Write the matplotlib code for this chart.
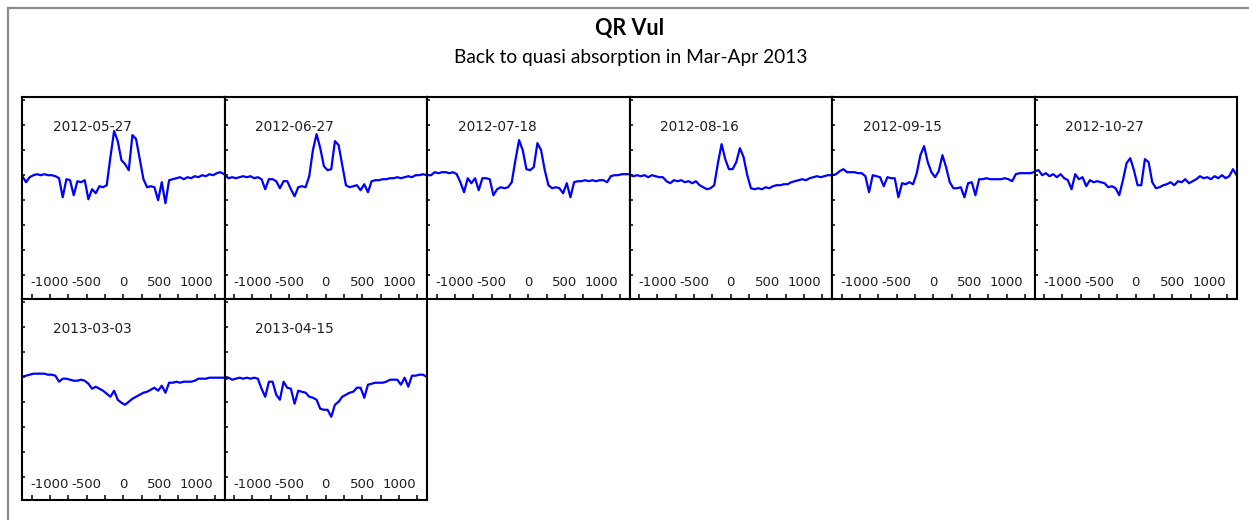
import matplotlib
matplotlib.use("Agg")
import matplotlib.pyplot as plt
from matplotlib.lines import Line2D
from matplotlib.ticker import FixedLocator, FuncFormatter
import numpy as np

# velocity grid (km/s) shared by all spectra
velocity = np.arange(-1375, 1376, 50)

dates = ["2012-05-27", "2012-06-27", "2012-07-18", "2012-08-16",
         "2012-09-15", "2012-10-27", "2013-03-03", "2013-04-15"]

flux_20120527 = [0.99, 0.93, 0.98, 1.00, 1.01, 1.00, 1.01, 1.00, 1.00, 0.99,
                 0.97, 0.78, 0.96, 0.95, 0.80, 0.94, 0.93, 0.95, 0.76, 0.86,
                 0.82, 0.89, 0.88, 0.90, 1.18, 1.44, 1.34, 1.15, 1.11, 1.05,
                 1.40, 1.36, 1.16, 0.96, 0.88, 0.89, 0.88, 0.75, 0.93, 0.72,
                 0.95, 0.96, 0.97, 0.98, 0.96, 0.98, 0.97, 0.99, 0.98, 1.00,
                 0.99, 1.01, 1.00, 1.02, 1.03, 1.01]
flux_20120627 = [1.00, 0.97, 0.98, 0.97, 0.98, 0.99, 0.98, 0.99, 0.97, 0.98,
                 0.96, 0.86, 0.96, 0.96, 0.94, 0.87, 0.94, 0.94, 0.86, 0.79,
                 0.88, 0.89, 0.88, 0.99, 1.25, 1.41, 1.27, 1.09, 1.05, 1.06,
                 1.34, 1.30, 1.10, 0.90, 0.88, 0.89, 0.90, 0.85, 0.91, 0.83,
                 0.94, 0.95, 0.95, 0.96, 0.96, 0.97, 0.97, 0.98, 0.97, 0.98,
                 0.99, 0.98, 1.00, 1.00, 1.01, 1.00]
flux_20120718 = [1.00, 1.00, 1.03, 1.02, 1.03, 1.03, 1.02, 1.03, 1.01, 0.93,
                 0.83, 0.97, 0.92, 0.97, 0.85, 0.97, 0.97, 0.96, 0.80, 0.86,
                 0.88, 0.87, 0.88, 0.93, 1.15, 1.35, 1.25, 1.06, 1.05, 1.08,
                 1.32, 1.25, 1.05, 0.90, 0.87, 0.88, 0.87, 0.82, 0.92, 0.78,
                 0.93, 0.94, 0.94, 0.95, 0.94, 0.95, 0.94, 0.95, 0.95, 0.93,
                 0.99, 1.00, 1.00, 1.01, 1.01, 1.01]
flux_20120816 = [1.00, 0.99, 1.00, 0.99, 1.00, 0.98, 1.00, 0.99, 0.98, 0.98,
                 0.94, 0.92, 0.95, 0.94, 0.95, 0.93, 0.94, 0.92, 0.94, 0.90,
                 0.88, 0.86, 0.87, 0.90, 1.12, 1.31, 1.16, 1.06, 1.06, 1.13,
                 1.27, 1.18, 1.00, 0.87, 0.86, 0.87, 0.86, 0.88, 0.87, 0.89,
                 0.90, 0.90, 0.91, 0.91, 0.93, 0.94, 0.95, 0.96, 0.95, 0.97,
                 0.98, 0.99, 0.98, 0.99, 1.00, 1.00]
flux_20120915 = [1.00, 1.01, 1.04, 1.06, 1.03, 1.03, 1.03, 1.02, 1.02, 0.99,
                 0.83, 1.00, 0.99, 0.98, 0.89, 0.98, 0.97, 0.97, 0.78, 0.92,
                 0.91, 0.93, 0.91, 1.02, 1.20, 1.29, 1.13, 1.03, 0.98, 1.04,
                 1.20, 1.08, 0.93, 0.87, 0.87, 0.88, 0.78, 0.92, 0.93, 0.80,
                 0.96, 0.96, 0.97, 0.96, 0.96, 0.96, 0.96, 0.97, 0.96, 0.94,
                 1.01, 1.02, 1.02, 1.02, 1.02, 1.03]
flux_20121027 = [1.04, 1.05, 1.00, 1.02, 0.99, 1.01, 0.98, 1.01, 0.97, 0.95,
                 0.86, 1.01, 0.96, 0.98, 0.89, 0.95, 0.93, 0.94, 0.93, 0.92,
                 0.88, 0.89, 0.87, 0.80, 0.95, 1.12, 1.17, 1.05, 0.90, 0.90,
                 1.16, 1.13, 0.93, 0.87, 0.88, 0.90, 0.91, 0.93, 0.90, 0.94,
                 0.93, 0.96, 0.92, 0.94, 0.96, 0.99, 0.97, 0.98, 0.96, 0.99,
                 0.97, 1.00, 0.97, 0.99, 1.06, 1.00]
flux_20130303 = [1.00, 1.01, 1.02, 1.03, 1.03, 1.03, 1.03, 1.02, 1.02, 1.01,
                 0.95, 0.98, 0.98, 0.97, 0.96, 0.96, 0.97, 0.96, 0.93, 0.88,
                 0.90, 0.88, 0.86, 0.83, 0.80, 0.86, 0.77, 0.74, 0.72, 0.75,
                 0.78, 0.80, 0.82, 0.84, 0.85, 0.87, 0.89, 0.86, 0.91, 0.84,
                 0.94, 0.94, 0.95, 0.94, 0.95, 0.95, 0.95, 0.96, 0.98, 0.98,
                 0.98, 0.99, 0.99, 0.99, 0.99, 0.99]
flux_20130415 = [0.97, 0.99, 0.97, 0.98, 0.99, 0.98, 0.99, 0.98, 0.99, 0.98,
                 0.88, 0.80, 0.95, 0.95, 0.82, 0.77, 0.95, 0.89, 0.88, 0.73,
                 0.86, 0.85, 0.84, 0.80, 0.79, 0.77, 0.68, 0.67, 0.67, 0.60,
                 0.72, 0.75, 0.80, 0.82, 0.84, 0.85, 0.89, 0.89, 0.79, 0.92,
                 0.93, 0.94, 0.94, 0.94, 0.95, 0.97, 0.97, 0.97, 0.92, 0.99,
                 0.90, 1.01, 1.01, 1.02, 1.02, 1.00]

spectra = [flux_20120527, flux_20120627, flux_20120718, flux_20120816,
           flux_20120915, flux_20121027, flux_20130303, flux_20130415]

x_ticks = np.arange(-1250, 1251, 250)
y_ticks = np.arange(0.0, 1.76, 0.25)

W, H = 1249, 520
fig = plt.figure(figsize=(W / 100, H / 100), dpi=100)

# grey frame (top and left edges)
fig.add_artist(Line2D([8 / W, 1], [1 - 8 / H, 1 - 8 / H], color="#8c8c8c", lw=1.6))
fig.add_artist(Line2D([8 / W, 8 / W], [0, 1 - 8 / H], color="#8c8c8c", lw=1.6))

fig.text(630 / W, 1 - 28 / H, "QR Vul", ha="center", va="center",
         fontsize=15.5, fontweight="bold", family="Lato")
fig.text(631 / W, 1 - 58 / H, "Back to quasi absorption in Mar-Apr 2013",
         ha="center", va="center", fontsize=13.8, family="Lato")

panel_w, panel_h = 202.5, 201.5
col_left = [22 + i * panel_w for i in range(6)]
row_top = [97, 97 + panel_h]


def tick_label(v, pos):
    if v % 500 == 0:
        return "%d" % v
    return ""


for i, (date, flux) in enumerate(zip(dates, spectra)):
    left = col_left[i % 6]
    top = row_top[i // 6]
    ax = fig.add_axes([left / W, 1 - (top + panel_h) / H, panel_w / W, panel_h / H])
    ax.plot(velocity, flux, color="#0000ff", lw=1.6)
    ax.set_xlim(-1380, 1380)
    ax.set_ylim(-0.23, 1.78)
    ax.xaxis.set_major_locator(FixedLocator(x_ticks))
    ax.xaxis.set_major_formatter(FuncFormatter(tick_label))
    ax.yaxis.set_major_locator(FixedLocator(y_ticks))
    ax.set_yticklabels([])
    ax.tick_params(axis="x", direction="in", length=3.5, width=1.1, pad=-16,
                   labelsize=9.5, labelcolor="#202020")
    ax.tick_params(axis="y", direction="in", length=2.5, width=1.1)
    for sp in ax.spines.values():
        sp.set_linewidth(1.5)
        sp.set_color("black")
    ax.text(0.153, 0.851, date, transform=ax.transAxes, ha="left", va="center",
            fontsize=9.8, color="#202020")

fig.savefig("out.png", dpi=100)
